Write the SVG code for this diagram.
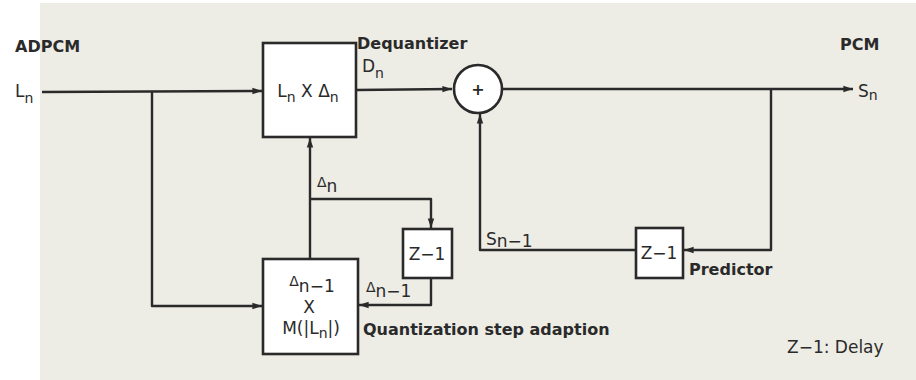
<svg xmlns="http://www.w3.org/2000/svg" width="916" height="380" viewBox="0 0 916 380">
<defs>
<marker id="ah" viewBox="0 0 12 10" refX="12" refY="5" markerWidth="12" markerHeight="8" markerUnits="userSpaceOnUse" orient="auto">
<path d="M0,1 L12,5 L0,9 Z" fill="#2a2a2a"/>
</marker>
</defs>
<style>
.ln{fill:none;stroke:#2a2a2a;stroke-width:2.4;stroke-linejoin:round}
.ar{marker-end:url(#ah)}
.bx{fill:#ffffff;stroke:#2a2a2a;stroke-width:2.6}
.t{font-family:"DejaVu Sans","Liberation Sans",sans-serif;font-size:17px;fill:#2a2a2a}
.s{font-size:14px}
.b{font-weight:bold;font-size:16px}
.c{text-anchor:middle}
</style>
<rect x="0" y="0" width="916" height="380" fill="#ffffff"/>
<rect x="40" y="3" width="876" height="377" fill="#edece5"/>

<g id="connectors">
<path class="ln ar" d="M42,92 L262,91"/>
<path class="ln ar" d="M152,92 L152,306 L262,306"/>
<path class="ln ar" d="M356,90 L452,89"/>
<path class="ln ar" d="M502,89 L853,89"/>
<path class="ln ar" d="M771,89 L771,250 L684,250"/>
<path class="ln ar" d="M635,250 L480,250 L480,114"/>
<path class="ln ar" d="M310,259 L310,138"/>
<path class="ln ar" d="M310,199 L431,199 L431,228"/>
<path class="ln ar" d="M431,279 L431,305 L359,305"/>
</g>

<g id="dequantizer">
<rect class="bx" x="263" y="43" width="93" height="94"/>
<text class="t c" x="308" y="97">L<tspan class="s" dy="5">n</tspan><tspan dy="-5"> X Δ</tspan><tspan class="s" dy="5">n</tspan></text>
<text class="t b" x="357" y="49">Dequantizer</text>
<text class="t" x="362" y="72">D<tspan class="s" dy="6">n</tspan></text>
</g>

<g id="adder">
<circle cx="478" cy="89" r="24" fill="#ffffff" stroke="#2a2a2a" stroke-width="2.6"/>
<text class="t b c" x="478" y="95" font-size="17">+</text>
</g>

<g id="step-adaption">
<rect class="bx" x="263" y="259" width="95" height="95"/>
<text class="t c" x="312" y="286"><tspan class="s">Δ</tspan><tspan dy="6">n−1</tspan></text>
<text class="t c" x="309" y="313">X</text>
<text class="t c" x="311" y="334">M(|L<tspan class="s" dy="4">n</tspan><tspan dy="-4">|)</tspan></text>
<text class="t b" x="363" y="335">Quantization step adaption</text>
</g>

<g id="delay-step">
<rect class="bx" x="403" y="229" width="49" height="49"/>
<text class="t c" x="427" y="260">Z−1</text>
<text class="t" x="366" y="292"><tspan class="s">Δ</tspan><tspan dy="5">n−1</tspan></text>
<text class="t" x="317" y="187"><tspan class="s">Δ</tspan><tspan dy="5">n</tspan></text>
</g>

<g id="predictor">
<rect class="bx" x="636" y="228" width="47" height="50"/>
<text class="t c" x="659" y="259">Z−1</text>
<text class="t b" x="689" y="275">Predictor</text>
<text class="t" x="486" y="245">S<tspan dy="2">n−1</tspan></text>
</g>

<g id="labels">
<text class="t b" x="15" y="52">ADPCM</text>
<text class="t" x="15" y="97">L<tspan class="s" dy="6">n</tspan></text>
<text class="t b" x="840" y="50">PCM</text>
<text class="t" x="858" y="97">S<tspan class="s" dy="3">n</tspan></text>
<text class="t" x="787" y="353">Z−1: Delay</text>
</g>
</svg>
